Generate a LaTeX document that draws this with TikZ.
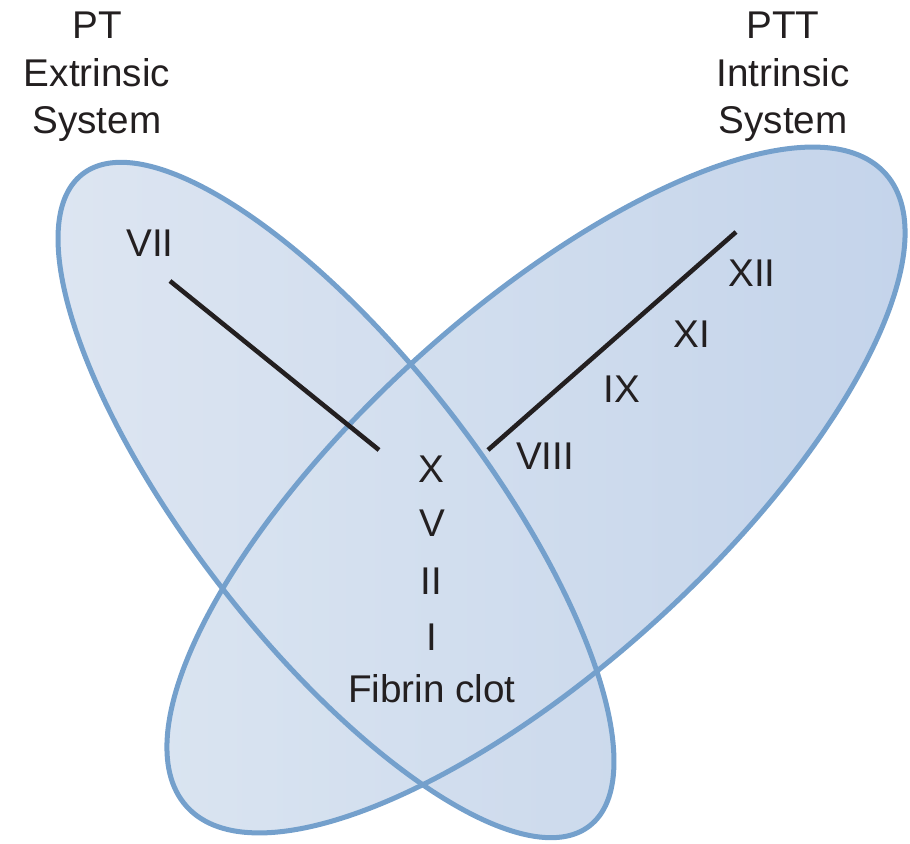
\documentclass[tikz,border=0pt]{standalone}
\usepackage{fontspec}
\setmainfont{Liberation Sans}
\usepackage{tikz}
\definecolor{vennline}{HTML}{74A0CC}
\definecolor{ink}{HTML}{231F20}
\definecolor{extL}{HTML}{DEE6F2}
\definecolor{extR}{HTML}{CBD9EC}
\definecolor{intL}{HTML}{DBE5F1}
\definecolor{intR}{HTML}{C3D3EA}
\tikzset{
  % --- Vung he thong ----------------------------------------
  vennfill/.style={shading=axis, shading angle=90},
  vennedge/.style={draw=vennline, line width=2.85pt},
  % --- Chu ---------------------------------------------------
  sysname/.style={font=\fontsize{22}{26.9}\selectfont, text=ink,
    align=center, inner sep=0pt, anchor=north},
  factor/.style={font=\fontsize{22}{26.9}\selectfont, text=ink,
    inner sep=0pt, anchor=base},
  % --- Thanh noi ---------------------------------------------
  bar/.style={draw=ink, line width=2.6pt}
}

\begin{document}
\begin{tikzpicture}[x=0.02cm, y=0.02cm]

  \useasboundingbox (0,0) rectangle (910,-844);

  % --- Hai vung: ngoai sinh (trai) va noi sinh (phai) ---
  \shade[vennfill, left color=extL, right color=extR,
         rotate around={-52.1:(336,-500)}]
    (336,-500) ellipse [x radius=8.26cm, y radius=2.88cm];
  \shade[vennfill, left color=intL, right color=intR,
         rotate around={42.2:(536,-490)}]
    (536,-490) ellipse [x radius=9.43cm, y radius=3.55cm];
  \draw[vennedge, rotate around={-52.1:(336,-500)}]
    (336,-500) ellipse [x radius=8.26cm, y radius=2.88cm];
  \draw[vennedge, rotate around={42.2:(536,-490)}]
    (536,-490) ellipse [x radius=9.43cm, y radius=3.55cm];

  % --- Ten he thong ---
  \node[sysname] (pt)  at (97,-12)  {PT\\Extrinsic\\System};
  \node[sysname] (ptt) at (783,-12) {PTT\\Intrinsic\\System};

  % --- Cac yeu to ---
  \node[factor] (f7)  at (150,-257) {VII};
  \node[factor] (f12) at (752,-287) {XII};
  \node[factor] (f11) at (692,-348) {XI};
  \node[factor] (f9)  at (622,-403) {IX};
  \node[factor] (f8)  at (545,-470) {VIII};
  \node[factor] (f10) at (431,-483) {X};
  \node[factor] (f5)  at (432,-537) {V};
  \node[factor] (f2)  at (431,-595) {II};
  \node[factor] (f1)  at (432,-650) {I};
  \node[factor] (clot) at (432,-702) {Fibrin clot};

  % --- Thanh noi hai nhanh ---
  \coordinate (extA) at (170,-281);
  \coordinate (extB) at (379,-450);
  \coordinate (intA) at (488,-450);
  \coordinate (intB) at (736,-232);
  \draw[bar] (extA) -- (extB);
  \draw[bar] (intA) -- (intB);

\end{tikzpicture}
\end{document}
